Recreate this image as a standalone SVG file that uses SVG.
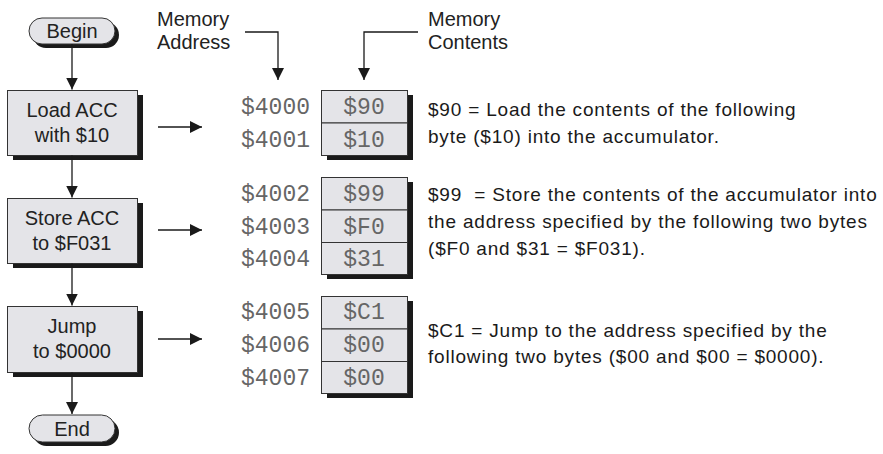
<svg xmlns="http://www.w3.org/2000/svg" width="883" height="454" viewBox="0 0 883 454">
  <style>
    .sh { fill: #1a1a1a; }
    .box { fill: #e4e4e8; stroke: #333; stroke-width: 1; }
    .ft { font-family: "Liberation Sans", Arial, sans-serif; font-size: 20px; fill: #222; text-anchor: middle; }
    .lbl { font-family: "Liberation Sans", Arial, sans-serif; font-size: 20px; fill: #222; }
    .desc { font-family: "Liberation Sans", Arial, sans-serif; font-size: 19px; letter-spacing: 0.8px; fill: #1a1a1a; white-space: pre; }
    .addr { font-family: "Liberation Mono", "Courier New", monospace; font-size: 23px; fill: #666; text-anchor: end; }
    .val { font-family: "Liberation Mono", "Courier New", monospace; font-size: 23px; fill: #666; text-anchor: middle; }
    .cn { fill: none; stroke: #1a1a1a; stroke-width: 1.3; }
  </style>
  <defs>
    <marker id="ah" viewBox="0 0 12 12" refX="12" refY="6" markerWidth="12" markerHeight="12" markerUnits="userSpaceOnUse" orient="auto">
      <path d="M0,0 L12,6 L0,12 Z" fill="#1a1a1a"/>
    </marker>
  </defs>

  <rect width="883" height="454" fill="#fff"/>

  <!-- Flowchart nodes -->
  <g id="begin">
    <rect class="sh" x="33" y="22" width="86" height="26" rx="13"/>
    <rect class="box" x="29" y="18" width="86" height="26" rx="13"/>
    <text class="ft" x="72" y="38">Begin</text>
  </g>
  <g id="load">
    <rect class="sh" x="13" y="95" width="130" height="65"/>
    <rect class="box" x="7.5" y="90.5" width="130" height="65"/>
    <text class="ft" x="72" y="117">Load ACC</text>
    <text class="ft" x="72" y="142">with $10</text>
  </g>
  <g id="store">
    <rect class="sh" x="13" y="203" width="130" height="65"/>
    <rect class="box" x="7.5" y="198.5" width="130" height="65"/>
    <text class="ft" x="72" y="225">Store ACC</text>
    <text class="ft" x="72" y="250">to $F031</text>
  </g>
  <g id="jump">
    <rect class="sh" x="13" y="311" width="130" height="66"/>
    <rect class="box" x="7.5" y="306.5" width="130" height="66"/>
    <text class="ft" x="72" y="333">Jump</text>
    <text class="ft" x="72" y="358">to $0000</text>
  </g>
  <g id="end">
    <rect class="sh" x="33" y="419" width="86" height="27" rx="13.5"/>
    <rect class="box" x="29" y="415" width="86" height="27" rx="13.5"/>
    <text class="ft" x="72" y="436">End</text>
  </g>

  <!-- Labels -->
  <g id="label-address">
    <text class="lbl" x="157" y="26">Memory</text>
    <text class="lbl" x="157" y="49">Address</text>
  </g>
  <g id="label-contents">
    <text class="lbl" x="428" y="26">Memory</text>
    <text class="lbl" x="428" y="49">Contents</text>
  </g>

  <!-- Memory block 1 -->
  <g id="mem1">
    <rect class="sh" x="327" y="95" width="86" height="65"/>
    <rect class="box" x="321.5" y="90.5" width="86" height="32.5"/>
    <rect class="box" x="321.5" y="123" width="86" height="32.5"/>
    <text class="val" x="364" y="114">$90</text>
    <text class="val" x="364" y="147">$10</text>
    <text class="addr" x="310" y="114">$4000</text>
    <text class="addr" x="310" y="147">$4001</text>
  </g>
  <!-- Memory block 2 -->
  <g id="mem2">
    <rect class="sh" x="327" y="182" width="86" height="97"/>
    <rect class="box" x="321.5" y="177.5" width="86" height="32.5"/>
    <rect class="box" x="321.5" y="210" width="86" height="32.5"/>
    <rect class="box" x="321.5" y="242.5" width="86" height="32"/>
    <text class="val" x="364" y="201">$99</text>
    <text class="val" x="364" y="233.5">$F0</text>
    <text class="val" x="364" y="266">$31</text>
    <text class="addr" x="310" y="201">$4002</text>
    <text class="addr" x="310" y="233.5">$4003</text>
    <text class="addr" x="310" y="266">$4004</text>
  </g>
  <!-- Memory block 3 -->
  <g id="mem3">
    <rect class="sh" x="327" y="301" width="86" height="97"/>
    <rect class="box" x="321.5" y="296.5" width="86" height="32.5"/>
    <rect class="box" x="321.5" y="329" width="86" height="32.5"/>
    <rect class="box" x="321.5" y="361.5" width="86" height="32"/>
    <text class="val" x="364" y="319">$C1</text>
    <text class="val" x="364" y="352">$00</text>
    <text class="val" x="364" y="384.5">$00</text>
    <text class="addr" x="310" y="319">$4005</text>
    <text class="addr" x="310" y="352">$4006</text>
    <text class="addr" x="310" y="384.5">$4007</text>
  </g>

  <!-- Descriptions -->
  <g id="desc1">
    <text class="desc" x="428" y="116">$90 = Load the contents of the following</text>
    <text class="desc" x="428" y="143">byte ($10) into the accumulator.</text>
  </g>
  <g id="desc2">
    <text class="desc" x="428" y="201" xml:space="preserve">$99  = Store the contents of the accumulator into</text>
    <text class="desc" x="428" y="228">the address specified by the following two bytes</text>
    <text class="desc" x="428" y="255">($F0 and $31 = $F031).</text>
  </g>
  <g id="desc3">
    <text class="desc" x="428" y="337">$C1 = Jump to the address specified by the</text>
    <text class="desc" x="428" y="363">following two bytes ($00 and $00 = $0000).</text>
  </g>

  <!-- Connectors -->
  <g id="connectors">
    <path class="cn" d="M72,44 V89.5" marker-end="url(#ah)"/>
    <path class="cn" d="M72,155.5 V197.5" marker-end="url(#ah)"/>
    <path class="cn" d="M72,263.5 V305.5" marker-end="url(#ah)"/>
    <path class="cn" d="M72,372.5 V414" marker-end="url(#ah)"/>
    <path class="cn" d="M158,127 H202" marker-end="url(#ah)"/>
    <path class="cn" d="M158,230 H202" marker-end="url(#ah)"/>
    <path class="cn" d="M158,339 H202" marker-end="url(#ah)"/>
    <path class="cn" d="M245,32 H278 V80" marker-end="url(#ah)"/>
    <path class="cn" d="M418,32 H364 V80" marker-end="url(#ah)"/>
  </g>
</svg>
